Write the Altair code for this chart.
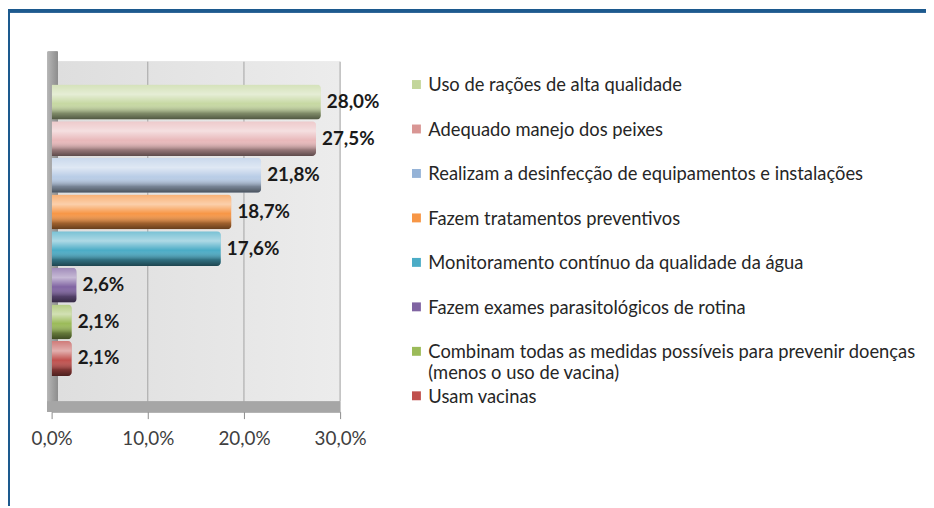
import altair as alt
import pandas as pd

# ---------------- data ----------------
categories = [
    "Uso de rações de alta qualidade",
    "Adequado manejo dos peixes",
    "Realizam a desinfecção de equipamentos e instalações",
    "Fazem tratamentos preventivos",
    "Monitoramento contínuo da qualidade da água",
    "Fazem exames parasitológicos de rotina",
    "Combinam todas as medidas possíveis para prevenir doenças\n(menos o uso de vacina)",
    "Usam vacinas",
]
values = [28.0, 27.5, 21.8, 18.7, 17.6, 2.6, 2.1, 2.1]
value_labels = ["28,0%", "27,5%", "21,8%", "18,7%", "17,6%", "2,6%", "2,1%", "2,1%"]
bar_colors = ["#c6d8a2", "#e8b8ba", "#b8cce6", "#f79646", "#4bacc6", "#8064a2", "#9bbb59", "#c0504d"]
legend_colors = ["#c3d69b", "#d99694", "#95b3d7", "#f79646", "#4bacc6", "#8064a2", "#9bbb59", "#c0504d"]
tick_values = [0, 10, 20, 30]
tick_labels = ["0,0%", "10,0%", "20,0%", "30,0%"]
grid_values = [10, 20, 30]

df = pd.DataFrame({"category": categories, "value": values, "label": value_labels})
grid_df = pd.DataFrame({"tick": grid_values})

FONT = "Lato"
W, H = 926, 500

xscale = alt.Scale(domain=[0, 30], range=[44, 335], nice=False, zero=False)
yscale = alt.Scale(type="band", domain=categories, range=[52, 405], paddingInner=0.05,
                   paddingOuter=0.8, align=0.39)
legend_yscale = alt.Scale(type="point", domain=categories, range=[75, 389], padding=0)

label_expr = " : ".join(
    f"datum.value == {v} ? '{t}'" for v, t in zip(tick_values, tick_labels)
) + " : ''"

x_axis = alt.Axis(values=tick_values, labelExpr=label_expr, title=None, grid=False,
                  offset=-95, domainColor="#8c8c8c", tickColor="#8c8c8c", tickSize=7,
                  labelFont=FONT, labelFontSize=19, labelColor="#404040",
                  labelPadding=11, labelFlush=False, labelOverlap=False)

base = alt.Chart(df)

# -------- decorations (frame, walls, floor) --------
frame_top = alt.Chart(df).mark_rule(color="#1d5a8e", strokeWidth=3).encode(
    x=alt.value(0), x2=alt.value(W), y=alt.value(0.5))
frame_left = alt.Chart(df).mark_rule(color="#1d5a8e", strokeWidth=3).encode(
    x=alt.value(0.5), y=alt.value(0), y2=alt.value(H))

back_wall = alt.Chart(df).mark_rect(
    color=alt.Gradient(gradient="linear", x1=0, y1=0, x2=1, y2=0,
                       stops=[alt.GradientStop(offset=0, color="#dedede"),
                              alt.GradientStop(offset=1, color="#ececec")])
).encode(x=alt.value(50), x2=alt.value(335), y=alt.value(52), y2=alt.value(395))

left_wall = alt.Chart(df).mark_rect(
    color=alt.Gradient(gradient="linear", x1=0, y1=0, x2=1, y2=0,
                       stops=[alt.GradientStop(offset=0, color="#b4b4b4"),
                              alt.GradientStop(offset=1, color="#8e8e8e")])
).encode(x=alt.value(40), x2=alt.value(50), y=alt.value(42), y2=alt.value(405))

floor = alt.Chart(df).mark_rect(color="#a6a6a6").encode(
    x=alt.value(40), x2=alt.value(335), y=alt.value(395), y2=alt.value(405))

grid = alt.Chart(grid_df).mark_rule(color="#a3a3a3", strokeWidth=1).encode(
    x=alt.X("tick:Q", scale=xscale, axis=x_axis),
    y=alt.value(52), y2=alt.value(395))

# -------- bars --------
bars = base.mark_bar(cornerRadiusEnd=4).encode(
    x=alt.X("value:Q", scale=xscale, axis=x_axis),
    y=alt.Y("category:N", scale=yscale, axis=None, sort=categories),
    color=alt.Color("category:N", scale=alt.Scale(domain=categories, range=bar_colors),
                    legend=None),
)

shade = base.mark_bar(
    cornerRadiusEnd=4,
    color=alt.Gradient(
        gradient="linear", x1=0, y1=0, x2=0, y2=1,
        stops=[
            alt.GradientStop(offset=0.0, color="rgba(255,255,255,0.25)"),
            alt.GradientStop(offset=0.28, color="rgba(255,255,255,0.55)"),
            alt.GradientStop(offset=0.55, color="rgba(255,255,255,0.0)"),
            alt.GradientStop(offset=0.82, color="rgba(0,0,0,0.35)"),
            alt.GradientStop(offset=1.0, color="rgba(0,0,0,0.6)"),
        ],
    ),
).encode(
    x=alt.X("value:Q", scale=xscale, axis=x_axis),
    y=alt.Y("category:N", scale=yscale, axis=None, sort=categories),
)

value_text = base.mark_text(align="left", baseline="middle", dx=6, font=FONT,
                            fontSize=19, fontWeight="bold", color="#1a1a1a").encode(
    x=alt.X("value:Q", scale=xscale, axis=x_axis),
    y=alt.Y("category:N", scale=yscale, axis=None, sort=categories),
    text="label:N",
)

# -------- manual legend --------
legend_sq = base.mark_square(size=81, opacity=1, filled=True).encode(
    x=alt.value(412),
    y=alt.Y("category:N", scale=legend_yscale, axis=None),
    color=alt.Color("category:N", scale=alt.Scale(domain=categories, range=legend_colors),
                    legend=None),
)
legend_txt = base.mark_text(align="left", baseline="alphabetic", dy=7, font=FONT,
                            fontSize=18.5, color="#262626", lineBreak="\n",
                            lineHeight=21).encode(
    x=alt.value(424),
    y=alt.Y("category:N", scale=legend_yscale, axis=None),
    text="category:N",
)

chart = alt.layer(
    frame_top, frame_left, back_wall, left_wall, floor, grid,
    bars, shade, value_text, legend_sq, legend_txt,
).resolve_scale(y="independent", color="independent").properties(
    width=W, height=H, padding=0,
    autosize=alt.AutoSizeParams(type="none"),
).configure_view(stroke=None)

chart.save("out.html", embed_options={"renderer": "svg", "actions": False})
